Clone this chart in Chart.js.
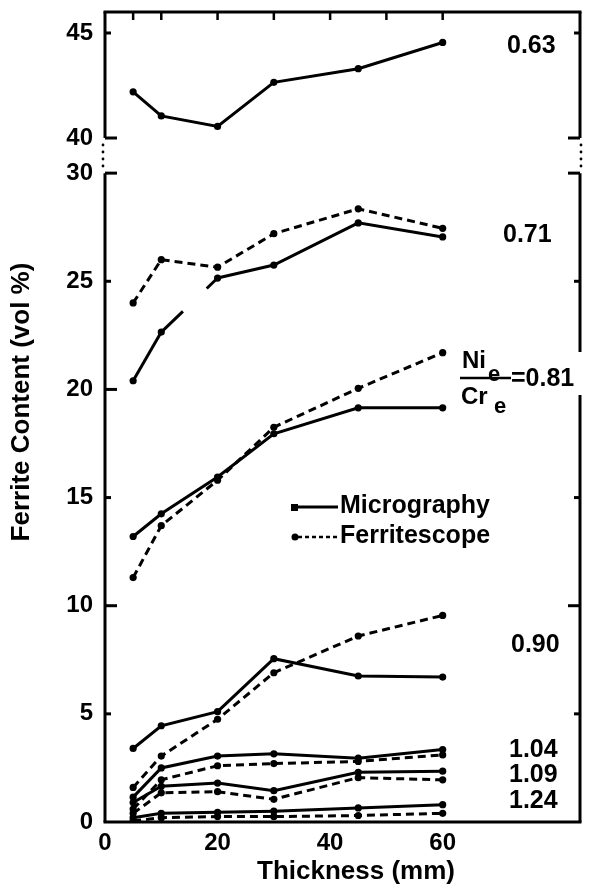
<!DOCTYPE html>
<html>
<head>
<meta charset="utf-8">
<script src="https://cdn.jsdelivr.net/npm/chart.js@4.4.1/dist/chart.umd.min.js"></script>
<style>
html,body{margin:0;padding:0;background:#fff;}
#wrap{position:relative;width:589px;height:889px;}
</style>
</head>
<body>
<div id="wrap"><canvas id="c" width="589" height="889"></canvas></div>
<script>
// ---- data ----
const thickness = [5, 10, 20, 30, 45, 60];           // mm
const micro063 = [42.2, 41.05, 40.55, 42.65, 43.3, 44.55];
const micro071 = [20.4, 22.65, 25.15, 25.75, 27.7, 27.05];
const ferri071 = [24.0, 26.0, 25.65, 27.2, 28.35, 27.45];
const micro081 = [13.2, 14.25, 15.95, 17.95, 19.15, 19.15];
const ferri081 = [11.3, 13.7, 15.8, 18.25, 20.05, 21.7];
const micro090 = [3.4, 4.45, 5.1, 7.55, 6.75, 6.7];
const ferri090 = [1.6, 3.05, 4.75, 6.9, 8.6, 9.55];
const micro104 = [1.15, 2.5, 3.05, 3.15, 2.95, 3.35];
const ferri104 = [0.6, 1.95, 2.6, 2.7, 2.8, 3.1];
const micro109 = [0.9, 1.65, 1.8, 1.45, 2.3, 2.35];
const ferri109 = [0.4, 1.35, 1.4, 1.05, 2.05, 1.95];
const micro124 = [0.2, 0.4, 0.45, 0.5, 0.65, 0.8];
const ferri124 = [0.05, 0.2, 0.25, 0.25, 0.3, 0.4];

const xTickValues = [0, 20, 40, 60];
const topTickValues = [5, 10, 20, 30, 40, 50, 60];
const yLowTicks = [0, 5, 10, 15, 20, 25, 30];
const yHighTicks = [40, 45];
const ratioLabels = ['0.63', '0.71', '0.81', '0.90', '1.04', '1.09', '1.24'];
const seriesNames = ['Micrography', 'Ferritescope'];

// ---- axis ranges (broken axis: lower panel 0-30, upper panel 40-46) ----
const X_MAX = 84.4;
const LOW_MAX = 37.45;
const HIGH_MIN = 7.43, HIGH_MAX = 46;
function highToLow(v) { return (v - HIGH_MIN) / (HIGH_MAX - HIGH_MIN) * LOW_MAX; }
function lowToHigh(v) { return HIGH_MIN + v / LOW_MAX * (HIGH_MAX - HIGH_MIN); }

const FONT = '"Liberation Sans", Arial, Helvetica, sans-serif';
const pts = arr => thickness.map((x, i) => ({ x: x, y: arr[i] }));

function ds(arr, dashed, axis, extra) {
  return Object.assign({
    data: pts(arr),
    yAxisID: axis || 'y',
    borderColor: '#000',
    backgroundColor: '#000',
    borderWidth: 3,
    borderDash: dashed ? [8, 5] : [],
    pointRadius: 3.6,
    pointBackgroundColor: '#000',
    pointBorderWidth: 0,
    tension: 0,
    fill: false
  }, extra || {});
}

const datasets = [
  ds(micro063, false, 'yHigh'),
  ds(micro071, false, 'y', { segment: { borderDash: c => c.p0DataIndex === 1 ? [30, 33, 40, 0] : undefined } }),
  ds(ferri071, true),
  ds(micro081, false), ds(ferri081, true),
  ds(micro090, false), ds(ferri090, true),
  ds(micro104, false), ds(ferri104, true),
  ds(micro109, false), ds(ferri109, true),
  ds(micro124, false), ds(ferri124, true)
];

const decor = {
  id: 'decor',
  afterDraw(chart) {
    const ctx = chart.ctx;
    const a = chart.chartArea;
    const xs = chart.scales.x, yl = chart.scales.y, yh = chart.scales.yHigh;
    const L = a.left, R = a.right, T = a.top, B = a.bottom;
    const y40 = yh.getPixelForValue(40);
    const y30 = yl.getPixelForValue(30);
    ctx.save();
    ctx.strokeStyle = '#000';
    ctx.fillStyle = '#000';
    ctx.lineWidth = 3;
    ctx.setLineDash([]);
    const line = (x1, y1, x2, y2) => { ctx.beginPath(); ctx.moveTo(x1, y1); ctx.lineTo(x2, y2); ctx.stroke(); };
    // frame
    line(L - 1.5, T, R + 1.5, T);
    line(L - 1.5, B, R + 1.5, B);
    line(L, T, L, y40); line(R, T, R, y40);
    line(L, y30, L, B); line(R, y30, R, B);
    // break dots
    for (let y = y40 + 7; y < y30 - 3; y += 7) {
      ctx.beginPath(); ctx.arc(L - 2, y, 1.4, 0, Math.PI * 2); ctx.fill();
      ctx.beginPath(); ctx.arc(R + 1, y, 1.4, 0, Math.PI * 2); ctx.fill();
    }
    // inward ticks on left/right axes
    yLowTicks.forEach(v => {
      if (v === 0) return;
      const y = yl.getPixelForValue(v);
      const len = v % 10 === 0 ? 12 : 6;
      line(L, y, L + len, y); line(R, y, R - len, y);
    });
    yHighTicks.forEach(v => {
      const y = yh.getPixelForValue(v);
      const len = v % 10 === 0 ? 12 : 6;
      line(L, y, L + len, y); line(R, y, R - len, y);
    });
    // top ticks
    ctx.lineWidth = 2.5;
    topTickValues.forEach(v => {
      const x = xs.getPixelForValue(v);
      line(x, T, x, T + 8);
    });

    // axis titles
    ctx.textAlign = 'center';
    ctx.textBaseline = 'middle';
    ctx.font = 'bold 26px ' + FONT;
    ctx.fillText('Thickness (mm)', 356, 872);
    ctx.save();
    ctx.translate(22, 402);
    ctx.rotate(-Math.PI / 2);
    ctx.fillText('Ferrite Content (vol %)', 0, 0);
    ctx.restore();

    // ratio labels
    ctx.textAlign = 'left';
    ctx.textBaseline = 'alphabetic';
    ctx.font = 'bold 25px ' + FONT;
    ctx.fillText(ratioLabels[0], 507, 53);
    ctx.fillText(ratioLabels[1], 503, 242);
    ctx.fillText(ratioLabels[3], 511, 652);
    ctx.fillText(ratioLabels[4], 509, 757);
    ctx.fillText(ratioLabels[5], 509, 782);
    ctx.fillText(ratioLabels[6], 509, 808);
    // Ni_e / Cr_e = 0.81
    ctx.fillStyle = '#fff';
    ctx.fillRect(512, 352, 77, 43);
    ctx.fillStyle = '#000';
    ctx.font = 'bold 24px ' + FONT;
    ctx.fillText('Ni', 462, 368);
    ctx.fillText('Cr', 461, 404);
    ctx.font = 'bold 22px ' + FONT;
    ctx.fillText('e', 488, 381);
    ctx.fillText('e', 494, 413);
    ctx.lineWidth = 2.5;
    line(460, 378, 511, 378);
    ctx.font = 'bold 25px ' + FONT;
    ctx.fillText('=' + ratioLabels[2], 511, 386);

    // legend
    ctx.lineWidth = 3;
    ctx.setLineDash([]);
    line(294, 507, 338, 507);
    ctx.fillRect(291, 504, 7, 7);
    ctx.lineWidth = 2.5;
    ctx.setLineDash([4, 3]);
    line(298, 537, 338, 537);
    ctx.setLineDash([]);
    ctx.beginPath(); ctx.arc(295, 537, 3.5, 0, Math.PI * 2); ctx.fill();
    ctx.font = 'bold 25px ' + FONT;
    ctx.textBaseline = 'middle';
    ctx.fillText(seriesNames[0], 340, 506);
    ctx.fillText(seriesNames[1], 340, 536);
    ctx.restore();
  }
};

new Chart(document.getElementById('c'), {
  type: 'line',
  data: { datasets: datasets },
  plugins: [decor],
  options: {
    responsive: false,
    animation: false,
    layout: { padding: { top: 12, right: 9, left: 0, bottom: 0 } },
    plugins: { legend: { display: false }, tooltip: { enabled: false } },
    scales: {
      x: {
        type: 'linear', min: 0, max: X_MAX,
        afterBuildTicks: s => { s.ticks = xTickValues.map(v => ({ value: v })); },
        afterFit: s => { s.height = 67; s.paddingLeft = 0; s.paddingRight = 0; },
        grid: { display: false, drawTicks: false },
        border: { display: false },
        ticks: { padding: 7, color: '#000', maxRotation: 0, font: { family: FONT, size: 24, weight: 'bold' } }
      },
      y: {
        type: 'linear', min: 0, max: LOW_MAX,
        afterBuildTicks: s => {
          s.ticks = yLowTicks.map(v => ({ value: v })).concat(yHighTicks.map(v => ({ value: highToLow(v) })));
        },
        afterFit: s => { s.width = 105; s.paddingTop = 0; s.paddingBottom = 0; },
        grid: { display: false, drawTicks: false },
        border: { display: false },
        ticks: {
          padding: 12, color: '#000',
          font: { family: FONT, size: 24, weight: 'bold' },
          callback: v => v > 30.5 ? String(Math.round(lowToHigh(v))) : String(v)
        }
      },
      yHigh: { type: 'linear', display: false, min: HIGH_MIN, max: HIGH_MAX }
    }
  }
});
</script>
</body>
</html>
